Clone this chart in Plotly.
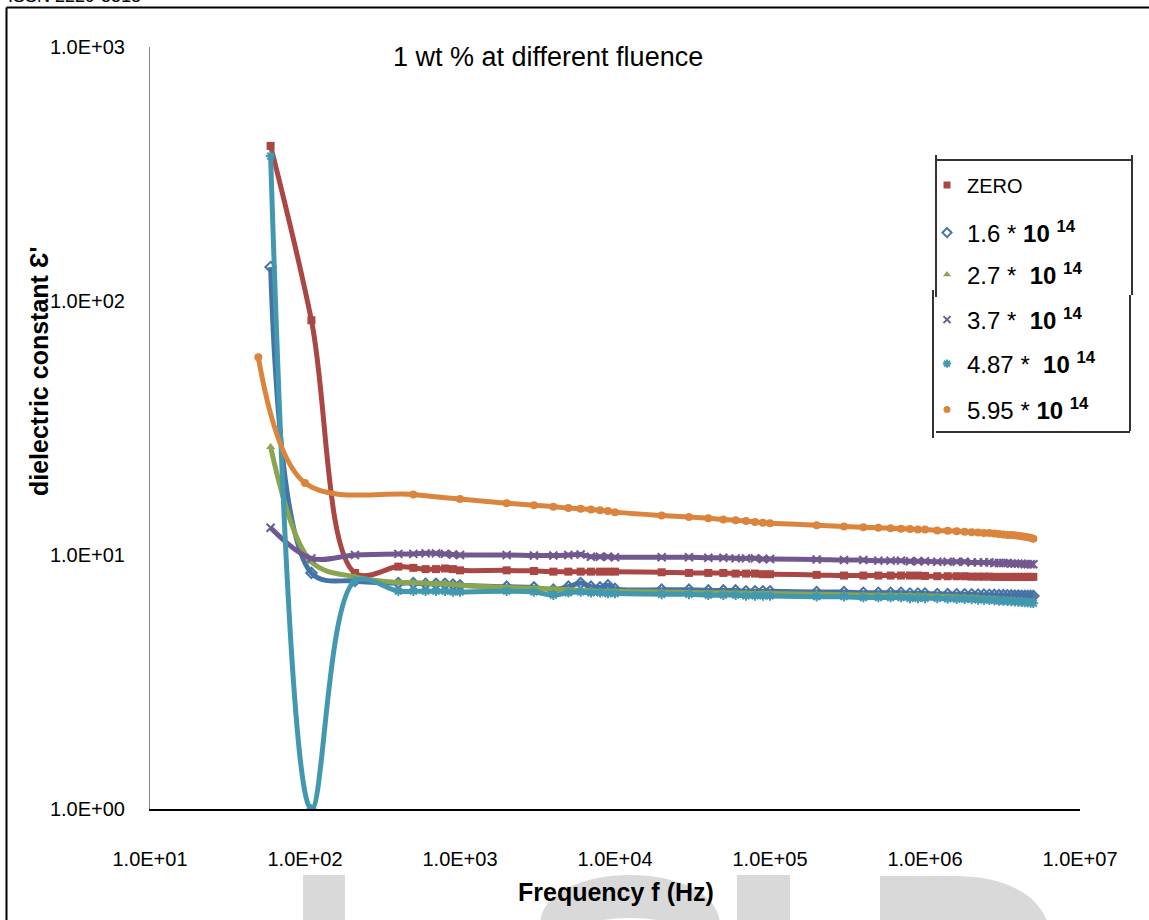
import plotly.graph_objects as go

# ---------------- data ----------------
freq_low = [60, 110, 210]
freq_hi = [400, 500, 600, 700, 800, 900, 1000,
           2000, 3000, 4000, 5000, 6000, 7000, 8000, 9000, 10000,
           20000, 30000, 40000, 50000, 60000, 70000, 80000, 90000, 100000,
           200000, 300000, 400000, 500000, 600000, 700000, 800000, 900000, 1000000,
           1200000, 1400000, 1600000, 1800000, 2000000, 2200000, 2400000, 2600000,
           2800000, 3000000, 3200000, 3400000, 3600000, 3800000, 4000000, 4200000,
           4400000, 4600000, 4800000, 5000000]
freq_orange = [50, 100, 500, 1000,
               2000, 3000, 4000, 5000, 6000, 7000, 8000, 9000, 10000,
               20000, 30000, 40000, 50000, 60000, 70000, 80000, 90000, 100000,
               200000, 300000, 400000, 500000, 600000, 700000, 800000, 900000, 1000000,
               1200000, 1400000, 1600000, 1800000, 2000000, 2200000, 2400000, 2600000,
               2800000, 3000000, 3200000, 3400000, 3600000, 3800000, 4000000, 4200000,
               4400000, 4600000, 4800000, 5000000]

zero_vals = [408, 84, 8.5,
             9.0, 8.9, 8.8, 8.8, 8.85, 8.8, 8.7,
             8.7, 8.65, 8.6, 8.6, 8.6, 8.6, 8.6, 8.6, 8.6,
             8.55, 8.5, 8.5, 8.5, 8.45, 8.45, 8.45, 8.4, 8.4,
             8.35, 8.3, 8.3, 8.3, 8.3, 8.3, 8.3, 8.3, 8.27,
             8.25, 8.25, 8.25, 8.25, 8.22, 8.22, 8.22, 8.22, 8.2, 8.2,
             8.2, 8.2, 8.2, 8.2, 8.2, 8.2, 8.2, 8.2, 8.2, 8.2]
f16_vals = [136, 8.5, 7.9,
            7.75, 7.75, 7.7, 7.7, 7.7, 7.65, 7.6,
            7.5, 7.45, 7.3, 7.5, 7.75, 7.5, 7.45, 7.6, 7.35,
            7.3, 7.3, 7.25, 7.25, 7.25, 7.2, 7.2, 7.2, 7.2,
            7.15, 7.15, 7.1, 7.1, 7.1, 7.1, 7.05, 7.05, 7.05,
            7.02, 7.02, 7.0, 7.0, 7.0, 6.98, 6.98, 6.97, 6.96, 6.95,
            6.95, 6.94, 6.93, 6.92, 6.92, 6.91, 6.9, 6.9, 6.9, 6.9]
f27_vals = [26.6, 9.4, 8.2,
            7.8, 7.8, 7.75, 7.7, 7.7, 7.65, 7.6,
            7.45, 7.4, 7.35, 7.3, 7.25, 7.25, 7.2, 7.2, 7.2,
            7.15, 7.12, 7.1, 7.1, 7.08, 7.07, 7.06, 7.05, 7.05,
            7.0, 6.98, 6.96, 6.95, 6.94, 6.93, 6.92, 6.91, 6.9,
            6.88, 6.86, 6.84, 6.82, 6.8, 6.78, 6.76, 6.74, 6.72, 6.7,
            6.68, 6.67, 6.65, 6.64, 6.62, 6.6, 6.58, 6.57, 6.56, 6.55]
f37_vals = [12.8, 9.7, 10.0,
            10.1, 10.1, 10.15, 10.15, 10.1, 10.05, 10.0,
            10.0, 9.95, 9.95, 10.0, 10.05, 9.85, 9.85, 9.85, 9.8,
            9.8, 9.8, 9.75, 9.75, 9.7, 9.7, 9.7, 9.65, 9.65,
            9.6, 9.55, 9.55, 9.5, 9.5, 9.5, 9.45, 9.45, 9.45,
            9.4, 9.4, 9.4, 9.4, 9.35, 9.35, 9.35, 9.35, 9.3, 9.3,
            9.3, 9.3, 9.25, 9.25, 9.25, 9.25, 9.2, 9.2, 9.2, 9.2]
f487_vals = [372, 1.0, 7.9,
             7.2, 7.2, 7.2, 7.2, 7.2, 7.15, 7.15,
             7.2, 7.15, 6.95, 7.1, 7.15, 7.1, 7.1, 7.05, 7.05,
             7.0, 7.0, 6.95, 6.95, 6.95, 6.9, 6.9, 6.9, 6.9,
             6.85, 6.85, 6.8, 6.8, 6.8, 6.8, 6.75, 6.75, 6.75,
             6.75, 6.72, 6.7, 6.7, 6.68, 6.66, 6.65, 6.64, 6.62, 6.6,
             6.6, 6.58, 6.56, 6.55, 6.54, 6.52, 6.5, 6.5, 6.48, 6.46]
f595_vals = [60, 19.2, 17.3, 16.6,
             16.0, 15.7, 15.5, 15.3, 15.2, 15.1, 15.0, 14.9, 14.75,
             14.3, 14.1, 13.95, 13.8, 13.7, 13.6, 13.5, 13.4, 13.35,
             13.1, 12.95, 12.85, 12.8, 12.75, 12.7, 12.65, 12.6, 12.6,
             12.5, 12.45, 12.4, 12.35, 12.3, 12.25, 12.2, 12.2, 12.15, 12.1,
             12.05, 12.0, 12.0, 11.95, 11.9, 11.85, 11.8, 11.75, 11.7, 11.6]

x_tickvals = [10, 100, 1000, 10000, 100000, 1000000, 10000000]
x_ticktext = ["1.0E+01", "1.0E+02", "1.0E+03", "1.0E+04", "1.0E+05", "1.0E+06", "1.0E+07"]
y_tickvals = [1, 10, 100, 1000]
y_ticktext = ["1.0E+00", "1.0E+01", "1.0E+02", "1.0E+03"]

FONT = "Liberation Sans, Arial, sans-serif"

series = [
    ("ZERO", freq_low + freq_hi, zero_vals, "#AA4643", "square", 8, None),
    ("1.6 * <b>10 <sup>14</sup></b>", freq_low + freq_hi, f16_vals, "#4572A7", "diamond-open", 8, 2),
    ("2.7 *  <b>10 <sup>14</sup></b>", freq_low + freq_hi, f27_vals, "#89A54E", "triangle-up", 8, None),
    ("3.7 * <b> 10 <sup>14</sup></b>", freq_low + freq_hi, f37_vals, "#71588F", "x-thin", 8, 2),
    ("4.87 * <b> 10 <sup>14</sup></b>", freq_low + freq_hi, f487_vals, "#4198AF", "asterisk", 8, 2),
    ("5.95 * <b>10 <sup>14</sup></b>", freq_orange, f595_vals, "#DB843D", "circle", 8, None),
]

L, T, PW, PH = 150, 47, 930, 762
def px(xp):
    return (xp - L) / PW
def py(yp):
    return (T + PH - yp) / PH

legend_y = [185, 233, 275, 320, 364, 410]
legend_font = [20, 24, 24, 24, 24, 24]

fig = go.Figure()
for i, (name, xs, ys, col, sym, msize, mlw) in enumerate(series):
    mk = dict(symbol=sym, size=msize, color=col)
    if mlw:
        mk["line"] = dict(color=col, width=mlw)
    fig.add_trace(go.Scatter(
        x=xs, y=ys, mode="lines+markers", name=name,
        line=dict(color=col, width=5, shape="spline", smoothing=1.0),
        marker=mk, showlegend=False))
    lg = "legend" if i == 0 else f"legend{i+1}"
    fig.add_trace(go.Scatter(
        x=[None], y=[None], mode="markers", name=name,
        marker=dict(symbol=sym, size=7, color=col,
                    line=dict(color=col, width=mlw) if mlw else None),
        legend=lg, showlegend=True))

layout_legends = {}
for i, yy in enumerate(legend_y):
    key = "legend" if i == 0 else f"legend{i+1}"
    layout_legends[key] = dict(
        x=px(927), y=py(yy), xanchor="left", yanchor="middle",
        bgcolor="rgba(0,0,0,0)", borderwidth=0, itemwidth=30,
        font=dict(family=FONT, size=legend_font[i], color="#000000"))

fig.update_layout(
    width=1149, height=920,
    margin=dict(l=L, r=1149 - L - PW, t=T, b=920 - T - PH),
    paper_bgcolor="white", plot_bgcolor="white",
    font=dict(family=FONT, color="#000000"),
    **layout_legends,
)

fig.update_xaxes(
    type="log", range=[1, 7], showgrid=False, zeroline=False,
    showline=True, linecolor="#000000", linewidth=1.5,
    tickmode="array", tickvals=x_tickvals, ticktext=x_ticktext,
    ticks="", ticklabelstandoff=31,
    tickfont=dict(family=FONT, size=20, color="#000000"))
fig.update_yaxes(
    type="log", range=[0, 3], showgrid=False, zeroline=False,
    showline=True, linecolor="#868686", linewidth=1,
    tickmode="array", tickvals=y_tickvals, ticktext=y_ticktext,
    ticks="", ticklabelstandoff=20,
    tickfont=dict(family=FONT, size=20, color="#000000"))

GREY = "#D9D9D9"
def P(xp, yp):
    return f"{px(xp):.5f},{py(yp):.5f}"

# watermark fragments at the bottom edge (tops of large grey letters)
watermark = [
    dict(type="rect", xref="paper", yref="paper", x0=px(303), x1=px(345), y0=py(875), y1=py(925),
         fillcolor=GREY, line=dict(width=0), layer="below"),
    dict(type="path", xref="paper", yref="paper", layer="below", fillcolor=GREY, line=dict(width=0),
         path=(f"M {P(540, 925)} C {P(540, 895)} {P(580, 875)} {P(630, 875)} "
               f"C {P(680, 875)} {P(720, 895)} {P(720, 925)} L {P(675, 925)} "
               f"C {P(675, 925)} {P(660, 918)} {P(630, 918)} C {P(600, 918)} {P(585, 925)} {P(585, 925)} Z")),
    dict(type="rect", xref="paper", yref="paper", x0=px(737), x1=px(790), y0=py(875), y1=py(925),
         fillcolor=GREY, line=dict(width=0), layer="below"),
    dict(type="path", xref="paper", yref="paper", layer="below", fillcolor=GREY, line=dict(width=0),
         path=(f"M {P(880, 925)} L {P(880, 876)} L {P(955, 876)} "
               f"C {P(1005, 876)} {P(1040, 895)} {P(1048, 925)} Z")),
]

frame = [
    dict(type="line", xref="paper", yref="paper", x0=px(6.5), x1=px(1149), y0=py(7.5), y1=py(7.5),
         line=dict(color="#000000", width=2)),
    dict(type="line", xref="paper", yref="paper", x0=px(6.5), x1=px(6.5), y0=py(7.5), y1=py(925),
         line=dict(color="#000000", width=2)),
    dict(type="line", xref="paper", yref="paper", x0=px(936), x1=px(1132), y0=py(160), y1=py(160),
         line=dict(color="#333333", width=2)),
    dict(type="line", xref="paper", yref="paper", x0=px(936), x1=px(936), y0=py(155), y1=py(297),
         line=dict(color="#333333", width=2)),
    dict(type="line", xref="paper", yref="paper", x0=px(933), x1=px(933), y0=py(290), y1=py(438),
         line=dict(color="#333333", width=2)),
    dict(type="line", xref="paper", yref="paper", x0=px(1132), x1=px(1132), y0=py(155), y1=py(295),
         line=dict(color="#333333", width=2)),
    dict(type="line", xref="paper", yref="paper", x0=px(1130), x1=px(1130), y0=py(295), y1=py(431),
         line=dict(color="#333333", width=2)),
    dict(type="line", xref="paper", yref="paper", x0=px(936), x1=px(1130), y0=py(432), y1=py(432),
         line=dict(color="#333333", width=2)),
]
fig.update_layout(shapes=watermark + frame)

# titles as annotations (explicit anchors)
fig.add_annotation(text="1 wt % at different fluence", xref="paper", yref="paper",
                   x=px(548), y=py(57), xanchor="center", yanchor="middle", showarrow=False,
                   font=dict(family=FONT, size=27, color="#000000"))
fig.add_annotation(text="<b>Frequency f (Hz)</b>", xref="paper", yref="paper",
                   x=px(616), y=py(892), xanchor="center", yanchor="middle", showarrow=False,
                   font=dict(family=FONT, size=25, color="#000000"))
fig.add_annotation(text="<b>dielectric constant Ɛ'</b>", xref="paper", yref="paper",
                   x=px(39), y=py(372), xanchor="center", yanchor="middle", showarrow=False,
                   textangle=-90,
                   font=dict(family=FONT, size=25, color="#000000"))
fig.add_annotation(text="ISSN 2229-5518", xref="paper", yref="paper",
                   x=px(6), y=py(-4.5), xanchor="left", yanchor="middle", showarrow=False,
                   font=dict(family=FONT, size=18, color="#000000"))

fig.write_html("out.html", config={"displayModeBar": False},
               post_script="document.body.style.margin='0px';document.body.style.padding='0px';")
